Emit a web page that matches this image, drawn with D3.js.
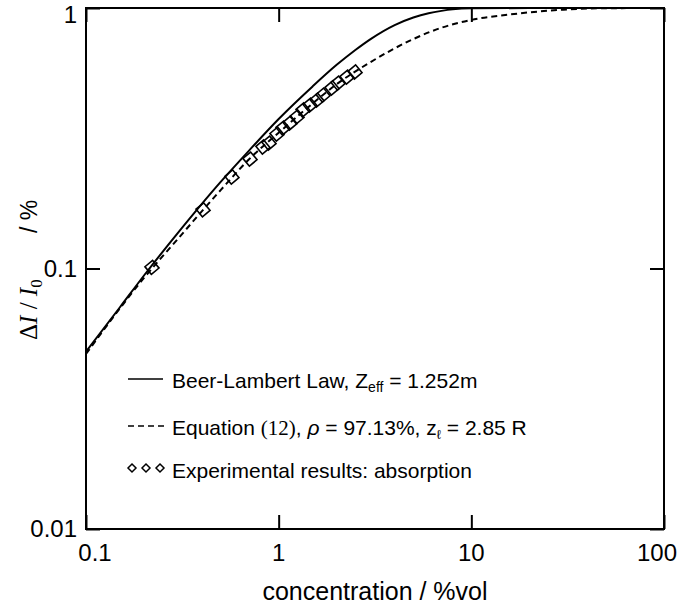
<!DOCTYPE html>
<html><head><meta charset="utf-8">
<script src="https://cdn.jsdelivr.net/npm/d3@7"></script>
<style>
html,body{margin:0;padding:0;background:#fff;}
svg{display:block;}
text{font-family:"Liberation Sans",Arial,sans-serif;fill:#000;}
</style></head>
<body>
<svg id="chart" width="678" height="605"></svg>
<script>
// Data
const xTicks = [0.1, 1, 10, 100];
const xTickLabels = ["0.1", "1", "10", "100"];
const yTicks = [0.01, 0.1, 1];
const yTickLabels = ["0.01", "0.1", "1"];

// Beer-Lambert Law curve (concentration %vol, ΔI/I0)
const beerX = [0.1, 0.15, 0.2, 0.3, 0.5, 0.7, 1, 1.5, 2, 2.5, 3, 4, 5, 6, 7, 8, 10, 20, 100];
const beerY = [0.048, 0.071, 0.094, 0.137, 0.215, 0.283, 0.375, 0.5, 0.605, 0.69, 0.76, 0.86, 0.92, 0.955, 0.975, 0.988, 0.997, 1, 1];

// Equation (12) curve
const eqX = [0.1, 0.2, 0.3, 0.4, 0.5, 0.7, 1, 1.5, 2, 3, 5, 7, 10, 15, 20, 30, 50, 100];
const eqY = [0.047, 0.092, 0.13, 0.166, 0.2, 0.262, 0.332, 0.43, 0.51, 0.62, 0.76, 0.84, 0.90, 0.94, 0.962, 0.985, 0.998, 1];

// Experimental results: absorption
const expX = [0.22, 0.405, 0.572, 0.71, 0.829, 0.891, 0.98, 1.053, 1.145, 1.245, 1.338, 1.454, 1.581, 1.699, 1.892, 2.032, 2.263, 2.49];
const expY = [0.101, 0.168, 0.2245, 0.263, 0.2927, 0.303, 0.328, 0.346, 0.362, 0.382, 0.406, 0.424, 0.443, 0.463, 0.493, 0.515, 0.543, 0.568];

const svg = d3.select("#chart");
const L = 86, R = 664, T = 8, B = 529;
const x = d3.scaleLog().domain([0.1, 100]).range([L, R]);
const y = d3.scaleLog().domain([0.01, 1]).range([B, T]);

svg.append("clipPath").attr("id", "clip")
  .append("rect").attr("x", L).attr("y", T - 1).attr("width", R - L).attr("height", B - T + 1);

const line = d3.line().x(d => x(d[0])).y(d => y(d[1])).curve(d3.curveMonotoneX);
const g = svg.append("g").attr("clip-path", "url(#clip)");

g.append("path").datum(beerX.map((v, i) => [v, beerY[i]]))
  .attr("d", line).attr("fill", "none").attr("stroke", "#000").attr("stroke-width", 2);
g.append("path").datum(eqX.map((v, i) => [v, eqY[i]]))
  .attr("d", line).attr("fill", "none").attr("stroke", "#000").attr("stroke-width", 2)
  .attr("stroke-dasharray", "6,4");

g.selectAll("rect.m").data(expX.map((v, i) => [v, expY[i]])).enter()
  .append("rect").attr("class", "m")
  .attr("x", -5).attr("y", -5).attr("width", 10).attr("height", 10)
  .attr("transform", d => `translate(${x(d[0])},${y(d[1])}) rotate(-40)`)
  .attr("fill", "none").attr("stroke", "#000").attr("stroke-width", 1.6);

// Axes (ticks inward, all four sides)
const tickLen = 14;
const axB = d3.axisBottom(x).tickValues(xTicks).tickSize(-tickLen).tickFormat("");
const axT = d3.axisTop(x).tickValues(xTicks).tickSize(-tickLen).tickFormat("");
const axL = d3.axisLeft(y).tickValues(yTicks).tickSize(-tickLen).tickFormat("");
const axR = d3.axisRight(y).tickValues(yTicks).tickSize(-tickLen).tickFormat("");
[[axB, `translate(0,${B})`], [axT, `translate(0,${T})`], [axL, `translate(${L},0)`], [axR, `translate(${R},0)`]]
  .forEach(([ax, tr]) => {
    const a = svg.append("g").attr("transform", tr).call(ax);
    a.select(".domain").remove();
    a.selectAll("line").attr("stroke", "#000").attr("stroke-width", 2);
  });
svg.append("rect").attr("x", L).attr("y", T).attr("width", R - L).attr("height", B - T)
  .attr("fill", "none").attr("stroke", "#000").attr("stroke-width", 2);

// Tick labels
svg.selectAll("text.xt").data(xTicks).enter().append("text")
  .attr("x", (d, i) => x(d) + (i === 0 ? 9 : (i === 3 ? -7 : 0)))
  .attr("y", 561).attr("text-anchor", "middle").attr("font-size", 24)
  .text((d, i) => xTickLabels[i]);
svg.selectAll("text.yt").data(yTicks).enter().append("text")
  .attr("x", 77).attr("y", (d, i) => y(d) + (i === 2 ? 15 : 8)).attr("text-anchor", "end").attr("font-size", 24)
  .text((d, i) => yTickLabels[i]);

// Axis titles
svg.append("text").attr("x", 375).attr("y", 600).attr("text-anchor", "middle")
  .attr("font-size", 25).text("concentration / %vol");

const serif = "'Liberation Serif','Times New Roman',serif";
const yt = svg.append("text").attr("transform", "translate(37,340) rotate(-90)")
  .attr("font-size", 25).style("font-family", serif);
yt.append("tspan").text("Δ");
yt.append("tspan").attr("font-style", "italic").text("I");
yt.append("tspan").text(" / ");
yt.append("tspan").attr("font-style", "italic").text("I");
yt.append("tspan").attr("font-size", 17).attr("dy", 5).text("0");
svg.append("text").attr("transform", "translate(37,233) rotate(-90)")
  .attr("font-size", 23).text("/ %");

// Legend
const lg = svg.append("g");
const fs = 21;
lg.append("line").attr("x1", 128).attr("x2", 163).attr("y1", 379).attr("y2", 379)
  .attr("stroke", "#000").attr("stroke-width", 1.6);
const t1 = lg.append("text").attr("x", 172).attr("y", 388).attr("font-size", fs);
t1.append("tspan").text("Beer-Lambert Law, Z");
t1.append("tspan").attr("font-size", 14).attr("dy", 4).text("eff");
t1.append("tspan").attr("dy", -4).text(" = 1.252m");

lg.append("line").attr("x1", 128).attr("x2", 164).attr("y1", 426).attr("y2", 426)
  .attr("stroke", "#000").attr("stroke-width", 1.6).attr("stroke-dasharray", "6,4");
const t2 = lg.append("text").attr("x", 172).attr("y", 435).attr("font-size", fs);
t2.append("tspan").text("Equation ");
t2.append("tspan").style("font-family", serif).text("(12)");
t2.append("tspan").text(", ");
t2.append("tspan").attr("font-style", "italic").text("ρ");
t2.append("tspan").text(" = 97.13%, z");
t2.append("tspan").attr("font-size", 13).attr("dy", 4).text("ℓ");
t2.append("tspan").attr("dy", -4).text(" = 2.85 R");

[132, 146, 160].forEach(cx => {
  lg.append("path").attr("d", `M${cx},${464}l4,4l-4,4l-4,-4z`)
    .attr("fill", "none").attr("stroke", "#000").attr("stroke-width", 1.5);
});
const t3 = lg.append("text").attr("x", 172).attr("y", 478).attr("font-size", fs);
t3.text("Experimental results: absorption");
</script>
</body></html>
